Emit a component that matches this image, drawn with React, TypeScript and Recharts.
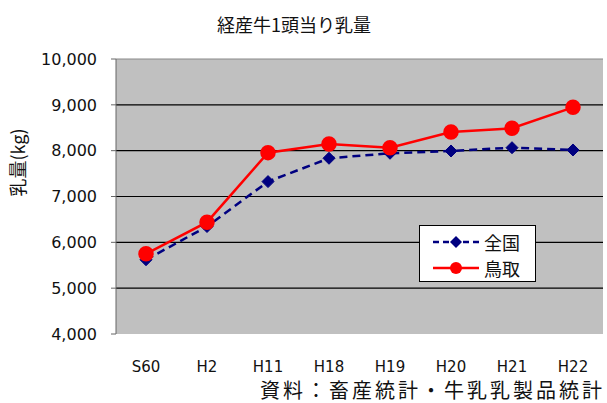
import { LineChart, Line, XAxis, YAxis, CartesianGrid } from 'recharts'

const categories = ['S60', 'H2', 'H11', 'H18', 'H19', 'H20', 'H21', 'H22']
const zenkoku = [5620, 6345, 7325, 7834, 7943, 7993, 8065, 8015]
const tottori = [5749, 6440, 7957, 8146, 8065, 8407, 8488, 8946]
const yTicks = [4000, 5000, 6000, 7000, 8000, 9000, 10000]
const innerGrid = [5000, 6000, 7000, 8000, 9000]
const edgeTicks = [0, 1, 2, 3, 4, 5, 6, 7, 8]

const data = categories.map((name, i) => ({
  name,
  zenkoku: zenkoku[i],
  tottori: tottori[i],
}))

const latin = '"DejaVu Sans", "Noto Sans CJK JP", sans-serif'
const cjk = '"Noto Sans CJK JP", "DejaVu Sans", sans-serif'

const Diamond = (props: any) => {
  const { cx, cy } = props
  if (cx == null || cy == null) return null
  const r = 6
  return (
    <path
      d={`M${cx},${cy - r} L${cx + r},${cy} L${cx},${cy + r} L${cx - r},${cy} Z`}
      fill="#000080"
      stroke="#000080"
    />
  )
}

export default function App() {
  return (
    <div style={{ position: 'absolute', left: 0, top: 0, width: 607, height: 403, background: '#fff', fontFamily: cjk }}>
      <div
        style={{
          position: 'absolute',
          left: 0,
          width: 588,
          top: 11,
          textAlign: 'center',
          fontSize: 18,
          lineHeight: '26px',
          color: '#111',
        }}
      >
        経産牛1頭当り乳量
      </div>
      <LineChart
        width={607}
        height={403}
        data={data}
        margin={{ top: 59, right: 4, bottom: 29, left: 0 }}
        style={{ fontFamily: latin }}
      >
        <CartesianGrid
          vertical={false}
          fill="#C0C0C0"
          stroke="#000"
          strokeWidth={1.2}
          horizontalValues={innerGrid}
        />
        <CartesianGrid
          vertical={false}
          stroke="#888"
          strokeWidth={1}
          horizontalValues={[10000]}
        />
        <XAxis
          xAxisId="edge"
          type="number"
          domain={[0, 8]}
          ticks={edgeTicks}
          height={0}
          tick={false}
          mirror
          tickSize={6}
          stroke="#000"
          strokeWidth={1.5}
        />
        <XAxis
          dataKey="name"
          height={40}
          axisLine={false}
          tickLine={false}
          padding={{ left: 30, right: 30 }}
          tick={{ fill: '#111', fontSize: 15 }}
          tickMargin={21}
        />
        <YAxis
          domain={[4000, 10000]}
          ticks={yTicks}
          width={116}
          interval={0}
          tickFormatter={(v: number) => v.toLocaleString('en-US')}
          tick={{ fill: '#111', fontSize: 16 }}
          tickSize={5}
          tickMargin={14}
          stroke="#666"
          label={{
            value: '乳量(kg)',
            angle: -90,
            position: 'insideLeft',
            offset: 19,
            fill: '#111',
            fontSize: 18,
            style: { fontFamily: cjk },
          }}
        />
        <Line
          dataKey="zenkoku"
          name="全国"
          stroke="#000080"
          strokeWidth={2.5}
          strokeDasharray="8 5"
          dot={<Diamond />}
          isAnimationActive={false}
        />
        <Line
          dataKey="tottori"
          name="鳥取"
          stroke="#FF0000"
          strokeWidth={2.5}
          dot={{ r: 6.5, fill: '#FF0000', stroke: '#FF0000' }}
          isAnimationActive={false}
        />
      </LineChart>
      <div
        style={{
          position: 'absolute',
          left: 419,
          top: 225,
          width: 117,
          height: 57,
          background: '#fff',
          border: '1.5px solid #000',
          boxSizing: 'border-box',
          fontSize: 18,
          color: '#111',
          paddingLeft: 13,
          paddingTop: 3,
        }}
      >
        <div style={{ display: 'flex', alignItems: 'center', height: 25 }}>
          <svg width={46} height={14} style={{ marginRight: 5 }}>
            <line x1={0} y1={7} x2={46} y2={7} stroke="#000080" strokeWidth={2.5} strokeDasharray="6 4" />
            <path d="M23,1 L29,7 L23,13 L17,7 Z" fill="#000080" />
          </svg>
          全国
        </div>
        <div style={{ display: 'flex', alignItems: 'center', height: 27 }}>
          <svg width={46} height={14} style={{ marginRight: 5 }}>
            <line x1={0} y1={7} x2={46} y2={7} stroke="#FF0000" strokeWidth={2.5} />
            <circle cx={23} cy={7} r={6} fill="#FF0000" />
          </svg>
          鳥取
        </div>
      </div>
      <div
        style={{
          position: 'absolute',
          right: 2,
          top: 379,
          fontSize: 20,
          lineHeight: '21px',
          color: '#111',
          letterSpacing: 3,
          whiteSpace: 'nowrap',
        }}
      >
        資料：畜産統計・牛乳乳製品統計
      </div>
    </div>
  )
}
